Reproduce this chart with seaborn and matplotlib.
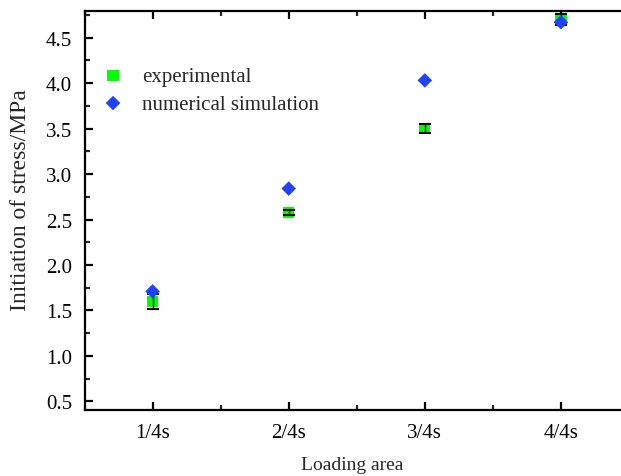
import matplotlib
matplotlib.use("Agg")
import matplotlib.pyplot as plt
from matplotlib.ticker import MultipleLocator
import seaborn as sns
import pandas as pd

# Loading area categories and measured / simulated initiation stress (MPa)
areas = ["1/4s", "2/4s", "3/4s", "4/4s"]
experimental = [1.60, 2.58, 3.50, 4.70]
experimental_err = [0.08, 0.025, 0.05, 0.06]
simulation = [1.71, 2.84, 4.03, 4.67]

sns.set_theme(style="ticks")
plt.rcParams["font.family"] = ["Liberation Serif", "DejaVu Serif"]

df_exp = pd.DataFrame({"area": areas, "stress": experimental, "err": experimental_err})
df_sim = pd.DataFrame({"area": areas, "stress": simulation})

fig = plt.figure(figsize=(6.21, 4.77), dpi=100)
ax = fig.add_axes([84.5 / 621, 1 - 411 / 477, (629 - 84.5) / 621, (411 - 12.3) / 477])

sns.scatterplot(data=df_exp, x="area", y="stress", ax=ax, marker="s", s=65,
                color="#00ff00", edgecolor="none", label="experimental", zorder=3)
ax.errorbar(range(len(areas)), df_exp["stress"], yerr=df_exp["err"], fmt="none",
            ecolor="black", elinewidth=1.0, capsize=4, capthick=1.5, zorder=4)
sns.scatterplot(data=df_sim, x="area", y="stress", ax=ax, marker="D", s=55,
                color="#2142ff", edgecolor="none", label="numerical simulation", zorder=5)

ax.set_xlim(-0.5, 3.5)
ax.set_ylim(0.405, 4.79)
ax.yaxis.set_minor_locator(MultipleLocator(0.25))
ax.xaxis.set_minor_locator(MultipleLocator(0.5))
ax.set_yticks([0.5, 1.0, 1.5, 2.0, 2.5, 3.0, 3.5, 4.0, 4.5])
ax.set_yticklabels(["0.5", "1.0", "1.5", "2.0", "2.5", "3.0", "3.5", "4.0", "4.5"])

for side in ["left", "bottom", "top", "right"]:
    ax.spines[side].set_linewidth(1.6)
    ax.spines[side].set_color("black")

ax.tick_params(which="major", direction="in", length=6, width=1.6, top=True,
               labelsize=15, colors="black", pad=9)
ax.tick_params(which="minor", direction="in", length=3.5, width=1.6, top=True)

ax.set_xlabel("Loading area", fontsize=14)
ax.set_ylabel("Initiation of stress/MPa", fontsize=17)
ax.xaxis.set_label_coords(0.491, -0.116)
ax.yaxis.set_label_coords(-0.099, 0.528)

leg = ax.legend(loc="upper left", bbox_to_anchor=(-0.005, 0.915), frameon=False,
                fontsize=15, handletextpad=0.9, labelspacing=0.4,
                borderaxespad=0.6, handlelength=1.0)

fig.savefig("out.png", dpi=100)
